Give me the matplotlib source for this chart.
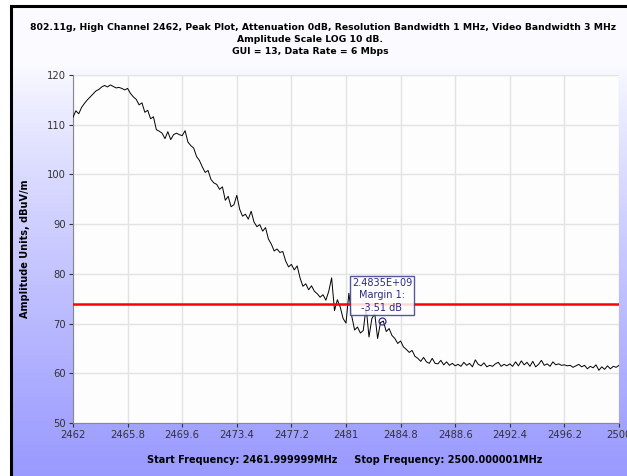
import matplotlib.pyplot as plt
import numpy as np

# ---- data (step 0.2 MHz) ----
freq_start = 2462.0
freq_step = 0.2
amplitude = [
    111.5, 112.8, 112.2, 113.5, 114.3, 115.0, 115.6, 116.2, 116.8, 117.1,
    117.6, 117.9, 117.6, 118.0, 117.7, 117.4, 117.5, 117.3, 117.0, 117.3,
    116.3, 115.6, 115.1, 114.0, 114.4, 112.5, 112.9, 111.2, 111.6, 109.0,
    108.7, 108.3, 107.2, 108.6, 107.0, 108.0, 108.3, 108.0, 107.8, 108.8,
    106.5, 105.8, 105.3, 103.6, 102.8, 101.5, 100.4, 100.8, 99.0, 98.3,
    98.0, 97.0, 97.5, 94.8, 95.6, 93.5, 93.9, 95.8, 93.0, 91.6,
    92.0, 91.0, 92.6, 90.4, 89.5, 89.9, 88.6, 89.3, 87.0, 86.0,
    84.6, 85.0, 84.3, 84.5, 82.6, 81.4, 81.9, 80.8, 81.6, 79.2,
    77.5, 78.0, 76.8, 77.6, 76.5, 76.0, 75.3, 75.8, 74.7, 76.5,
    79.2, 72.6, 74.8, 73.3, 71.0, 70.1, 76.1, 71.5, 68.7, 69.3,
    68.1, 68.6, 73.3, 67.3, 71.0, 72.0, 67.0, 70.2, 70.5, 68.4,
    69.0, 67.6, 67.0, 66.0, 66.5, 65.3, 64.8, 64.2, 64.6, 63.4,
    63.0, 62.4, 63.2, 62.3, 62.0, 63.0, 62.0, 61.9, 62.6, 61.7,
    62.3, 61.6, 62.0, 61.5, 61.8, 61.4, 62.2, 61.6, 62.0, 61.3,
    62.7, 61.8, 61.5, 62.1, 61.3, 61.6, 61.4, 61.9, 62.2, 61.4,
    61.8, 61.5, 61.9, 61.4, 62.3, 61.5, 62.5, 61.7, 62.2, 61.4,
    62.4, 61.3, 61.8, 62.6, 61.6, 61.9, 61.4, 62.3, 61.7, 61.9,
    61.6, 61.7, 61.5, 61.6, 61.2, 61.5, 61.8, 61.3, 61.6, 60.9,
    61.4, 61.1, 61.7, 60.6, 61.3, 60.8, 61.5, 60.9, 61.4, 61.2,
    61.6,
]
freqs = [freq_start + freq_step * i for i in range(len(amplitude))]

limit_line = 74.0
marker_freq = 2483.5
marker_amp = 70.49
marker_text = "2.4835E+09\nMargin 1:\n-3.51 dB"

x_ticks = [2462, 2465.8, 2469.6, 2473.4, 2477.2, 2481, 2484.8, 2488.6, 2492.4, 2496.2, 2500]
x_tick_labels = ["2462", "2465.8", "2469.6", "2473.4", "2477.2", "2481",
                 "2484.8", "2488.6", "2492.4", "2496.2", "2500"]
y_ticks = [50, 60, 70, 80, 90, 100, 110, 120]

title_lines = [
    "802.11g, High Channel 2462, Peak Plot, Attenuation 0dB, Resolution Bandwidth 1 MHz, Video Bandwidth 3 MHz",
    "Amplitude Scale LOG 10 dB.",
    "GUI = 13, Data Rate = 6 Mbps",
]

W, H = 627, 476
fig = plt.figure(figsize=(W / 100, H / 100), dpi=100)

# background: gradient panel with black left/top edge
bg = fig.add_axes([0, 0, 1, 1])
bg.set_xlim(0, W)
bg.set_ylim(H, 0)
bg.axis("off")
top_col = np.array([0.985, 0.985, 1.0])
bot_col = np.array([0.60, 0.60, 1.0])
t = np.linspace(0, 1, 256)[:, None]
t = np.clip((t - 0.12) / 0.88, 0, 1) ** 0.85
grad = top_col + (bot_col - top_col) * t
grad = np.repeat(grad[:, None, :], 2, axis=1)
bg.imshow(grad, extent=[11, W, H, 6], aspect="auto", zorder=0)
bg.plot([11, 11], [H, 6], color="black", lw=2.2, zorder=1)
bg.plot([11, W], [6, 6], color="black", lw=2.2, zorder=1)

# titles
bg.text(30, 27, title_lines[0], fontsize=6.7, fontweight="bold", ha="left", va="center", color="black")
bg.text(310, 39, title_lines[1], fontsize=6.7, fontweight="bold", ha="center", va="center", color="black")
bg.text(310, 51, title_lines[2], fontsize=6.7, fontweight="bold", ha="center", va="center", color="black")

# main plot
ax = fig.add_axes([73 / W, 1 - 423 / H, 546 / W, 348 / H])
ax.set_facecolor("#fdfdfd")
ax.plot(freqs, amplitude, color="black", lw=0.7, zorder=3)
ax.axhline(limit_line, color="#ff0000", lw=1.8, zorder=4)

ax.plot([marker_freq], [marker_amp], marker="o", ms=5, mfc="none", mec="#2f2f8f", mew=0.9, zorder=5)
ax.text(marker_freq, 75.7, marker_text, fontsize=7, color="#2a2a80", ha="center", va="center",
        linespacing=1.3, zorder=6,
        bbox=dict(boxstyle="square,pad=0.2", facecolor="white", edgecolor="#3a3a90", lw=1.0, alpha=0.85))

ax.set_xlim(2462, 2500)
ax.set_ylim(50, 120)
ax.set_xticks(x_ticks)
ax.set_xticklabels(x_tick_labels)
ax.set_yticks(y_ticks)
ax.grid(True, color="#e3e3e3", lw=1.0)
ax.set_axisbelow(True)
ax.tick_params(labelsize=7.2, colors="#333333", length=3, width=0.8, pad=2)
for s in ["top", "right"]:
    ax.spines[s].set_visible(False)
for s in ["left", "bottom"]:
    ax.spines[s].set_color("#888888")

ax.set_ylabel("Amplitude Units, dBuV/m", fontsize=7, fontweight="bold", labelpad=12)
bg.text(345, 460, "Start Frequency: 2461.999999MHz     Stop Frequency: 2500.000001MHz",
        fontsize=7, fontweight="bold", ha="center", va="center", color="black")

plt.savefig("out.png", dpi=100)
